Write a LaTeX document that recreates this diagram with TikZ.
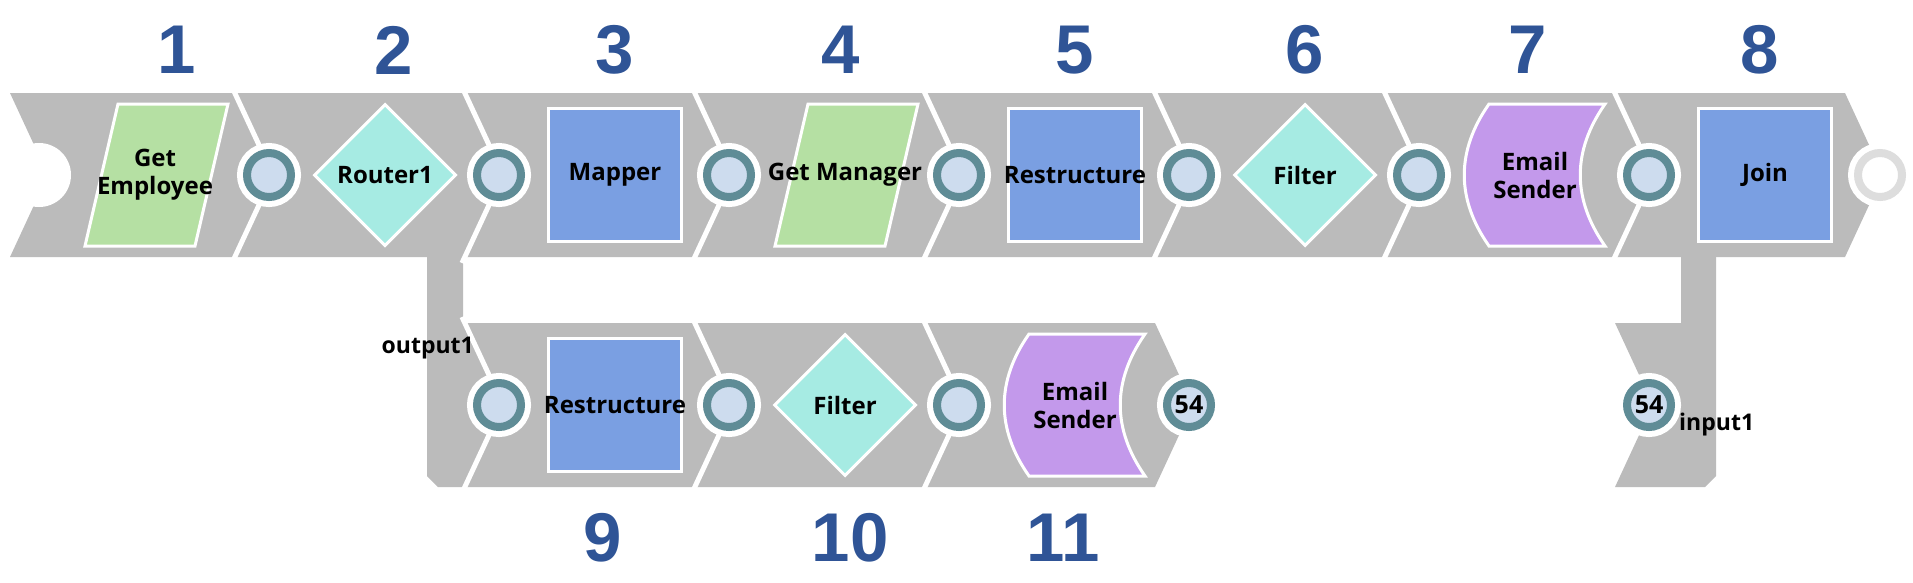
\documentclass[tikz,border=0pt]{standalone}
\usepackage{fontspec}
\setmainfont{Open Sans}
\newfontfamily\numfont{Liberation Sans}
\usepackage{tikz}
\usetikzlibrary{shapes.geometric,positioning}
\definecolor{bandgray}{RGB}{187,187,187}
\definecolor{readgreen}{RGB}{181,224,163}
\definecolor{routecyan}{RGB}{166,235,227}
\definecolor{mapblue}{RGB}{122,159,226}
\definecolor{sendpurple}{RGB}{195,153,235}
\definecolor{portring}{RGB}{95,140,150}
\definecolor{portfill}{RGB}{205,220,238}
\definecolor{endring}{RGB}{221,221,221}
\definecolor{numblue}{RGB}{47,84,150}
\tikzstyle{band} = [fill=bandgray]
\tikzstyle{gap} = [draw=white, line width=5pt]
\tikzstyle{port} = [circle, inner sep=0pt, minimum size=44pt, fill=portfill, draw=portring, line width=8pt, preaction={draw=white, line width=20pt}, font=\bfseries\fontsize{25}{25}\selectfont]
\tikzstyle{reader} = [rectangle, minimum width=146pt, minimum height=142pt, inner sep=0pt]
\tikzstyle{readerfill} = [fill=readgreen, draw=white, line width=3pt]
\tikzstyle{router} = [diamond, aspect=1, minimum width=142pt, minimum height=142pt, inner sep=0pt, fill=routecyan, draw=white, line width=3pt]
\tikzstyle{mapper} = [rectangle, minimum size=133pt, inner sep=0pt, fill=mapblue, draw=white, line width=3pt]
\tikzstyle{sender} = [rectangle, minimum width=140pt, minimum height=142pt, inner sep=0pt]
\tikzstyle{senderfill} = [fill=sendpurple, draw=white, line width=3pt]
\tikzstyle{lbl} = [font=\bfseries\fontsize{24}{28}\selectfont, align=center, inner sep=0pt]
\tikzstyle{idx} = [font=\numfont\bfseries\fontsize{69}{69}\selectfont, text=numblue, inner sep=0pt]
\tikzstyle{portlbl} = [font=\bfseries\fontsize{23}{23}\selectfont, inner sep=0pt]

\begin{document}
\begin{tikzpicture}[x=1pt, y=-1pt, node distance=230pt]
\useasboundingbox (0,0) rectangle (1913,582);

% Pipeline bands
\path[band] (10,93) -- (1845,93) -- (1883,175) -- (1845,257) -- (10,257) -- (48,175) -- cycle;
\path[band] (427,257) -- (463,257) -- (463,323) -- (1155,323) -- (1193,405) -- (1155,487) -- (438,487) -- (427,476) -- cycle;
\path[band] (1681,257) -- (1716,257) -- (1716,476) -- (1705,487) -- (1615,487) -- (1653,405) -- (1615,323) -- (1681,323) -- cycle;

% Segment borders
\foreach \b in {235,465,695,925,1155,1385,1615}
  \draw[gap] (\b-3,87) -- (\b+38,175) -- (\b-3,263);
\foreach \b in {465,695,925}
  \draw[gap] (\b-3,317) -- (\b+38,405) -- (\b-3,493);

% Left notch
\node (in0) [circle, fill=white, minimum size=64pt, inner sep=0pt] at (39,175) {};

% Top row
\node (c1) [reader] at (155,175) {};
\node (c2) [router, right of=c1] {};
\node (c3) [mapper, right of=c2] {};
\node (c4) [reader, right of=c3] {};
\node (c5) [mapper, right of=c4] {};
\node (c6) [router, right of=c5] {};
\node (c7) [sender, right of=c6] {};
\node (c8) [mapper, right of=c7] {};

% Bottom row
\node (c9) [mapper, below of=c3] {};
\node (c10) [router, right of=c9] {};
\node (c11) [sender, right of=c10] {};

% Ports
\foreach \i in {2,...,11}
  \node (p\i) [port, left of=c\i, node distance=116pt] {};
\node (q11) [port, right of=c11, node distance=114pt] {54};
\node (q8) [port, below of=p8] {54};
\node (out) [port, draw=endring, fill=white, right of=c8, node distance=115pt] {};

% Readers and email senders
\foreach \s in {c1,c4}
  \draw[readerfill, shift={(\s)}] (-37,-71) -- (73,-71) -- (40,71) -- (-70,71) -- cycle;
\foreach \s in {c7,c11}
  \draw[senderfill, shift={(\s)}] (-46,-71) -- (70,-71) .. controls (37,-24) and (37,24) .. (70,71) -- (-46,71) .. controls (-79,24) and (-79,-24) .. cycle;

% Labels
\foreach \i/\t in {1/{Get\\Employee}, 2/Router1, 3/Mapper, 4/Get Manager, 5/Restructure, 6/Filter, 7/{Email\\Sender}, 8/Join, 9/Restructure, 10/Filter, 11/{Email\\Sender}}
  \node (t\i) [lbl] at (c\i) {\t};

% Step numbers
\foreach \i/\dx in {1/22,2/9,3/0,4/-4,5/0,6/0,7/-7,8/-5}
  \node (n\i) [idx, above of=c\i, node distance=125pt, xshift=\dx pt] {\i};
\foreach \i/\dx in {9/-12,10/5,11/-12}
  \node (n\i) [idx, below of=c\i, node distance=133pt, xshift=\dx pt] {\i};

\node (o1) [portlbl, anchor=east] at (474,348) {output1};
\node (i1) [portlbl, anchor=west] at (1679,425) {input1};
\end{tikzpicture}
\end{document}
